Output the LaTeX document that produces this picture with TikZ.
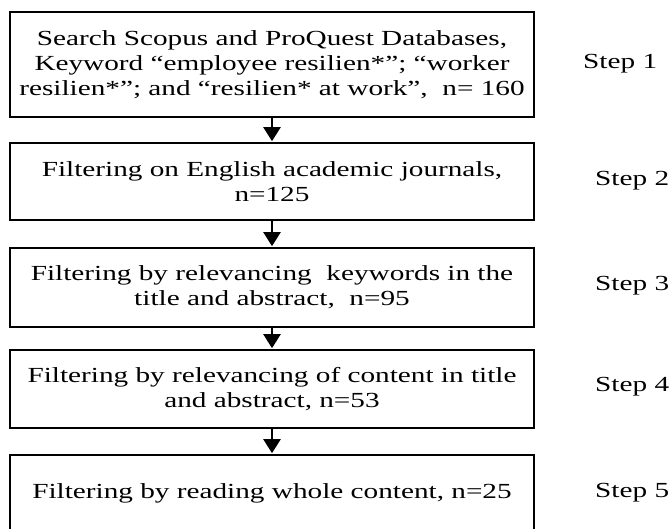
\documentclass[tikz,border=0pt]{standalone}
\usepackage{fontspec}
\setmainfont{Liberation Serif}[FakeStretch=1.36]
\usetikzlibrary{arrows.meta}
\tikzset{
  stepbox/.style={draw=black, line width=2.6pt, minimum width=524pt, inner sep=0pt, align=center, text=black},
  steplabel/.style={anchor=west, inner sep=0pt, text=black},
  flow/.style={line width=2.2pt, -{Triangle[width=17pt,length=14pt]}, shorten >=0.5pt}
}
\begin{document}
\begin{tikzpicture}[x=1pt,y=-1pt,font=\fontsize{21.5}{25}\selectfont]
\useasboundingbox[fill=white] (0,0) rectangle (670,529);
\clip (0,0) rectangle (670,529);
\node[stepbox, minimum height=105pt] (b1) at (272,64.5) {Search Scopus and ProQuest Databases,\\ Keyword “employee resilien*”; “worker\\ resilien*”; and “resilien* at work”,~ n= 160};
\node[stepbox, minimum height=77pt] (b2) at (272,181.5) {Filtering on English academic journals,\\ n=125};
\node[stepbox, minimum height=79pt] (b3) at (272,287.5) {Filtering by relevancing~ keywords in the\\ title and abstract,~ n=95};
\node[stepbox, minimum height=78pt] (b4) at (272,389) {Filtering by relevancing of content in title\\ and abstract, n=53};
\node[stepbox, minimum height=84pt, text depth=0pt] (b5) at (272,497) {};
\node[inner sep=0pt, text=black] (t5) at (272,493) {Filtering by reading whole content, n=25};
\node[steplabel] (s1) at (583,64) {Step 1};
\node[steplabel] (s2) at (595,181) {Step 2};
\node[steplabel] (s3) at (595,286) {Step 3};
\node[steplabel] (s4) at (595,387) {Step 4};
\node[steplabel] (s5) at (595,493) {Step 5};
\draw[flow] (b1) -- (b2);
\draw[flow] (b2) -- (b3);
\draw[flow] (b3) -- (b4);
\draw[flow] (b4) -- (b5);
\end{tikzpicture}
\end{document}
